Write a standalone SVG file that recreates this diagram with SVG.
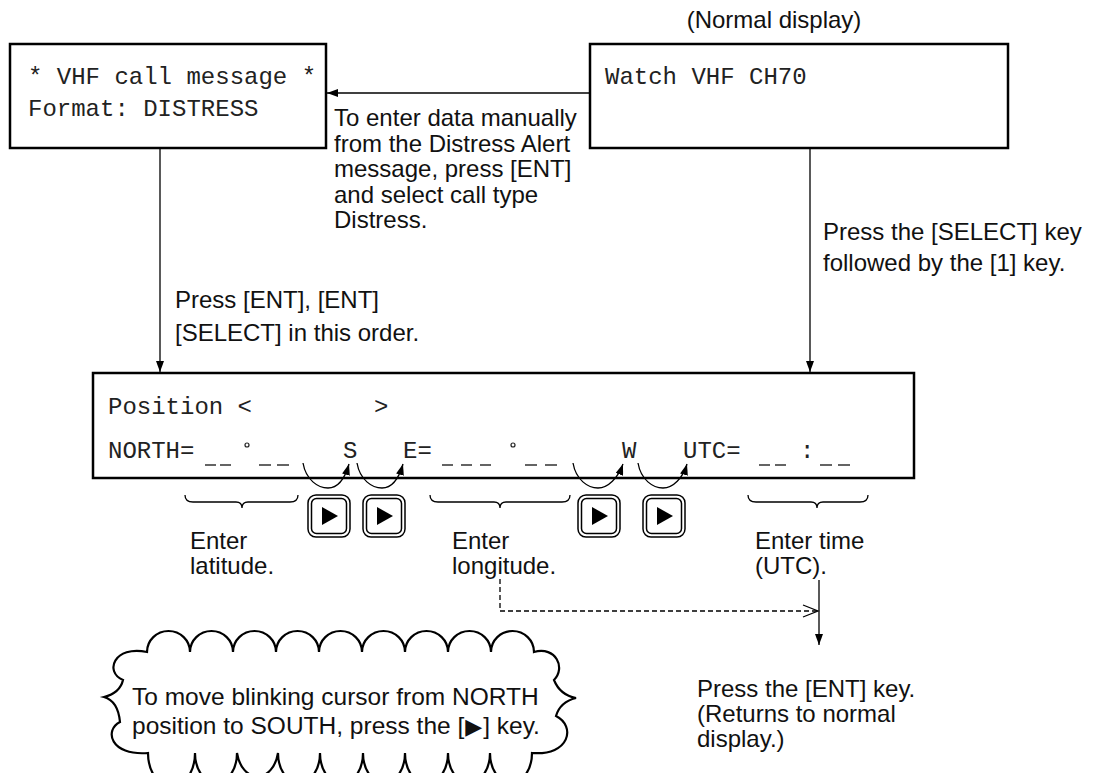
<svg xmlns="http://www.w3.org/2000/svg" width="1093" height="773" viewBox="0 0 1093 773">
<defs>
<style>
.box{fill:#fff;stroke:#000;stroke-width:2.5}
.mono{font-family:"Liberation Mono","Courier New",monospace;font-size:24px;fill:#222}
.sans{font-family:"Liberation Sans",Arial,sans-serif;font-size:24px;fill:#111}
.ln{fill:none;stroke:#000;stroke-width:1.3}
.dash{fill:none;stroke:#000;stroke-width:1.3;stroke-dasharray:5 3}
.us{stroke:#222;stroke-width:1.4}
.key{fill:#fff;stroke:#000;stroke-width:1.5}
.sym{font-family:"DejaVu Sans",sans-serif;font-size:22px}
</style>
<marker id="ah" viewBox="0 0 11 8" refX="11" refY="4" markerWidth="11" markerHeight="8" markerUnits="userSpaceOnUse" orient="auto">
<path d="M0,0 L11,4 L0,8 Z" fill="#000"/>
</marker>
<g id="keyShape">
<rect class="key" x="0" y="0" width="42" height="42" rx="8"/>
<rect class="key" x="3.5" y="3.5" width="35" height="35" rx="5"/>
<path d="M14,12 L14,30 L30,21 Z" fill="#000"/>
</g>
</defs>
<rect width="1093" height="773" fill="#fff"/>

<text class="sans" x="774" y="28" text-anchor="middle">(Normal display)</text>

<g id="node-vhf">
<rect class="box" x="10" y="44" width="316" height="104"/>
<text class="mono" x="28" y="84">* VHF call message *</text>
<text class="mono" x="28" y="116">Format: DISTRESS</text>
</g>

<g id="node-watch">
<rect class="box" x="590" y="44" width="418" height="104"/>
<text class="mono" x="605" y="84">Watch VHF CH70</text>
</g>

<g id="node-position">
<rect class="box" x="93" y="373" width="821" height="105"/>
<text class="mono" x="108" y="414">Position &lt;</text>
<text class="mono" x="374" y="414">&gt;</text>
<text class="mono" x="108" y="458">NORTH=</text>
<text class="mono" x="343" y="458">S</text>
<text class="mono" x="403" y="458">E=</text>
<text class="mono" x="622" y="458">W</text>
<text class="mono" x="683" y="458">UTC=</text>
<text class="mono" x="800" y="458">:</text>
<circle cx="247" cy="445" r="2" fill="none" stroke="#222" stroke-width="1.2"/>
<circle cx="513" cy="445" r="2" fill="none" stroke="#222" stroke-width="1.2"/>
<g class="us">
<line x1="205" y1="465" x2="216" y2="465"/><line x1="220" y1="465" x2="231" y2="465"/>
<line x1="259" y1="465" x2="271" y2="465"/><line x1="277" y1="465" x2="289" y2="465"/>
<line x1="442" y1="465" x2="453" y2="465"/><line x1="461" y1="465" x2="472" y2="465"/><line x1="480" y1="465" x2="491" y2="465"/>
<line x1="525" y1="465" x2="537" y2="465"/><line x1="545" y1="465" x2="557" y2="465"/>
<line x1="759" y1="465" x2="770" y2="465"/><line x1="775" y1="465" x2="786" y2="465"/>
<line x1="820" y1="465" x2="832" y2="465"/><line x1="838" y1="465" x2="850" y2="465"/>
</g>
</g>

<g id="keys">
<use href="#keyShape" x="308" y="495"/>
<use href="#keyShape" x="363" y="495"/>
<use href="#keyShape" x="578" y="495"/>
<use href="#keyShape" x="643" y="495"/>
</g>

<g id="braces">
<path class="ln" d="M185,495 Q185,502 193,502 L236,502 Q242,502 242,508 Q242,502 248,502 L290,502 Q298,502 298,495"/>
<path class="ln" d="M430,495 Q430,502 438,502 L494,502 Q500,502 500,508 Q500,502 506,502 L562,502 Q570,502 570,495"/>
<path class="ln" d="M748,495 Q748,502 756,502 L811,502 Q817,502 817,508 Q817,502 823,502 L860,502 Q868,502 868,495"/>
</g>

<g id="labels">
<text class="sans"><tspan x="334" y="126">To enter data manually</tspan><tspan x="334" y="151.5">from the Distress Alert</tspan><tspan x="334" y="177">message, press [ENT]</tspan><tspan x="334" y="202.5">and select call type</tspan><tspan x="334" y="228">Distress.</tspan></text>
<text class="sans"><tspan x="823" y="240">Press the [SELECT] key</tspan><tspan x="823" y="271">followed by the [1] key.</tspan></text>
<text class="sans"><tspan x="175" y="308">Press [ENT], [ENT]</tspan><tspan x="175" y="341">[SELECT] in this order.</tspan></text>
<text class="sans"><tspan x="190" y="549">Enter</tspan><tspan x="190" y="574">latitude.</tspan></text>
<text class="sans"><tspan x="452" y="549">Enter</tspan><tspan x="452" y="574">longitude.</tspan></text>
<text class="sans"><tspan x="755" y="549">Enter time</tspan><tspan x="755" y="574">(UTC).</tspan></text>
<text class="sans"><tspan x="697" y="697">Press the [ENT] key.</tspan><tspan x="697" y="722">(Returns to normal</tspan><tspan x="697" y="747">display.)</tspan></text>
</g>

<g id="connectors">
<line class="ln" x1="590" y1="93" x2="327" y2="93" marker-end="url(#ah)"/>
<line class="ln" x1="160" y1="148" x2="160" y2="372" marker-end="url(#ah)"/>
<line class="ln" x1="810" y1="148" x2="810" y2="372" marker-end="url(#ah)"/>
<path class="ln" d="M303,463 C306,480 318,488 328,488 C338,488 345,478 349,464" marker-end="url(#ah)"/>
<path class="ln" d="M357,463 C360,480 372,488 382,488 C392,488 399,478 403,464" marker-end="url(#ah)"/>
<path class="ln" d="M573,463 C576,480 588,488 598,488 C608,488 618,478 623,464" marker-end="url(#ah)"/>
<path class="ln" d="M638,463 C641,480 653,488 663,488 C673,488 683,478 687,464" marker-end="url(#ah)"/>
<path class="dash" d="M500,579 V611 H817"/>
<path class="ln" d="M803,605 L818,611 L803,617"/>
<line class="ln" x1="819" y1="580" x2="819" y2="645" marker-end="url(#ah)"/>
</g>

<g id="cloud">
<path fill="#fff" stroke="#000" stroke-width="2.2" stroke-linejoin="miter" d="M147,652 a21.5,21 0 0 1 43,0 a21.5,21 0 0 1 43,0 a21.5,21 0 0 1 43,0 a21.5,21 0 0 1 43,0 a21.5,21 0 0 1 43,0 a21.5,21 0 0 1 43,0 a21.5,21 0 0 1 43,0 a21.5,21 0 0 1 43,0 a21.5,21 0 0 1 43,0 C556,646 566,668 554,680 Q560,695 576,698 Q560,702 556,716 C576,726 570,756 532,753 a21,30 0 0 1 -42,0 a21,30 0 0 1 -42,0 a21,30 0 0 1 -43,0 a21,30 0 0 1 -42,0 a21,30 0 0 1 -43,0 a21,30 0 0 1 -42,0 a21,30 0 0 1 -41,0 a21,30 0 0 1 -42,0 a21,30 0 0 1 -47,0 C110,756 104,730 120,722 Q118,701 104,697 Q120,693 123,680 C104,672 114,645 147,652 Z"/>
<text class="sans" style="font-size:24.5px"><tspan x="132" y="705">To move blinking cursor from NORTH</tspan><tspan x="132" y="734">position to SOUTH, press the [<tspan class="sym" dx="1">▶</tspan><tspan dx="1">] key.</tspan></tspan></text>
</g>
</svg>
